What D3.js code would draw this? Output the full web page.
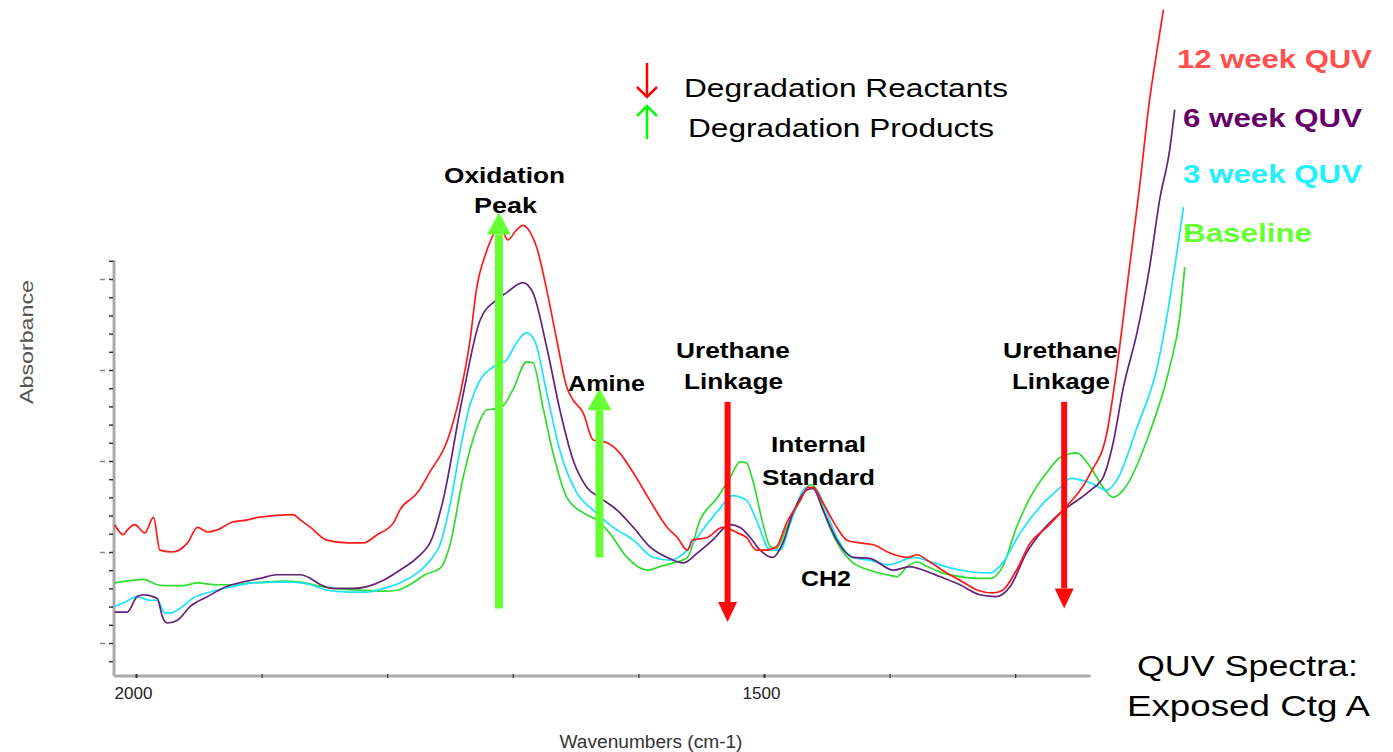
<!DOCTYPE html>
<html><head><meta charset="utf-8">
<script src="https://cdn.jsdelivr.net/npm/d3@7"></script>
<style>
html,body{margin:0;padding:0;background:#fff;}
svg{display:block;}
text{font-family:"Liberation Sans",Arial,sans-serif;}
</style></head>
<body>
<svg id="chart" width="1393" height="752"></svg>
<script>
// ---------- DATA (wavenumber cm-1, absorbance) ----------
const week12 = [[2017,0.330],[2010,0.319],[2007,0.324],[2001,0.330],[1993,0.321],[1986,0.338],[1981,0.302],[1971,0.300],[1959,0.310],[1951,0.327],[1943,0.322],[1936,0.324],[1923,0.333],[1912,0.335],[1903,0.338],[1875,0.341],[1869,0.335],[1861,0.327],[1848,0.313],[1832,0.310],[1819,0.310],[1808,0.319],[1795,0.332],[1790,0.346],[1776,0.365],[1766,0.388],[1752,0.423],[1742,0.473],[1734,0.533],[1729,0.588],[1721,0.630],[1710,0.657],[1704,0.643],[1697,0.654],[1692,0.659],[1686,0.651],[1681,0.635],[1673,0.588],[1665,0.533],[1657,0.481],[1652,0.467],[1644,0.453],[1636,0.423],[1625,0.420],[1615,0.409],[1604,0.387],[1591,0.357],[1577,0.327],[1569,0.316],[1561,0.302],[1557,0.313],[1545,0.316],[1533,0.327],[1521,0.321],[1514,0.316],[1506,0.302],[1498,0.302],[1490,0.306],[1482,0.332],[1471,0.357],[1465,0.371],[1461,0.371],[1453,0.354],[1442,0.327],[1434,0.313],[1424,0.310],[1413,0.308],[1400,0.299],[1386,0.294],[1378,0.297],[1370,0.291],[1358,0.280],[1344,0.269],[1330,0.258],[1318,0.255],[1310,0.258],[1299,0.280],[1288,0.310],[1275,0.327],[1264,0.343],[1240,0.387],[1227,0.431],[1219,0.503],[1209,0.613],[1201,0.701],[1193,0.797],[1187,0.852],[1182,0.896]];
const week6 = [[2017,0.234],[2007,0.234],[1999,0.251],[1994,0.253],[1983,0.249],[1979,0.229],[1975,0.222],[1967,0.225],[1957,0.240],[1943,0.251],[1928,0.262],[1915,0.267],[1901,0.271],[1888,0.275],[1869,0.275],[1861,0.271],[1853,0.264],[1843,0.260],[1827,0.260],[1816,0.262],[1803,0.269],[1790,0.280],[1776,0.294],[1764,0.316],[1756,0.354],[1740,0.470],[1726,0.555],[1713,0.577],[1705,0.585],[1692,0.596],[1684,0.585],[1673,0.525],[1662,0.453],[1652,0.401],[1641,0.371],[1631,0.360],[1617,0.346],[1604,0.327],[1591,0.306],[1577,0.294],[1564,0.288],[1553,0.299],[1541,0.313],[1527,0.330],[1519,0.327],[1511,0.316],[1503,0.302],[1493,0.294],[1485,0.310],[1477,0.343],[1466,0.368],[1461,0.370],[1453,0.346],[1442,0.313],[1429,0.294],[1416,0.293],[1397,0.280],[1384,0.284],[1373,0.280],[1360,0.273],[1344,0.264],[1328,0.253],[1315,0.251],[1304,0.262],[1291,0.299],[1278,0.324],[1264,0.343],[1240,0.368],[1230,0.382],[1222,0.420],[1214,0.480],[1203,0.541],[1193,0.613],[1185,0.687],[1177,0.742],[1173,0.786]];
const week3 = [[2017,0.240],[2010,0.244],[1999,0.251],[1989,0.247],[1983,0.247],[1977,0.233],[1973,0.233],[1965,0.238],[1955,0.249],[1941,0.256],[1923,0.262],[1907,0.266],[1888,0.267],[1875,0.267],[1861,0.264],[1848,0.258],[1830,0.256],[1816,0.256],[1803,0.260],[1790,0.266],[1776,0.277],[1764,0.294],[1758,0.308],[1750,0.352],[1742,0.412],[1734,0.462],[1726,0.489],[1716,0.503],[1705,0.511],[1697,0.530],[1689,0.541],[1682,0.530],[1673,0.475],[1662,0.409],[1649,0.365],[1636,0.346],[1620,0.327],[1604,0.313],[1588,0.294],[1575,0.291],[1561,0.302],[1549,0.324],[1535,0.348],[1525,0.362],[1514,0.357],[1506,0.335],[1495,0.302],[1487,0.302],[1479,0.332],[1466,0.371],[1458,0.368],[1450,0.343],[1442,0.316],[1429,0.294],[1416,0.291],[1400,0.286],[1381,0.294],[1365,0.288],[1350,0.282],[1334,0.278],[1320,0.277],[1310,0.288],[1296,0.321],[1280,0.350],[1264,0.371],[1256,0.381],[1240,0.376],[1227,0.368],[1219,0.379],[1203,0.437],[1187,0.503],[1177,0.577],[1169,0.651],[1166,0.679]];
const baseline = [[2017,0.266],[2002,0.269],[1994,0.270],[1983,0.264],[1975,0.263],[1963,0.263],[1951,0.266],[1936,0.264],[1923,0.264],[1909,0.266],[1896,0.267],[1883,0.268],[1869,0.267],[1856,0.263],[1843,0.260],[1822,0.258],[1803,0.257],[1792,0.258],[1782,0.264],[1770,0.275],[1758,0.282],[1750,0.308],[1740,0.379],[1726,0.445],[1721,0.456],[1710,0.458],[1700,0.478],[1689,0.509],[1684,0.508],[1676,0.459],[1668,0.409],[1657,0.360],[1644,0.343],[1633,0.335],[1623,0.321],[1609,0.294],[1593,0.280],[1583,0.284],[1572,0.288],[1561,0.294],[1551,0.335],[1537,0.360],[1527,0.382],[1519,0.399],[1514,0.398],[1509,0.379],[1501,0.332],[1495,0.306],[1490,0.304],[1482,0.327],[1471,0.357],[1463,0.374],[1458,0.368],[1450,0.335],[1440,0.306],[1429,0.288],[1416,0.280],[1402,0.275],[1394,0.273],[1386,0.284],[1378,0.289],[1370,0.284],[1358,0.277],[1344,0.273],[1330,0.271],[1320,0.271],[1310,0.284],[1299,0.327],[1288,0.360],[1275,0.387],[1264,0.404],[1251,0.409],[1240,0.393],[1230,0.371],[1222,0.360],[1214,0.368],[1193,0.431],[1177,0.503],[1169,0.558],[1165,0.613]];

const seriesNames  = ["Baseline","3 week QUV","6 week QUV","12 week QUV"];
const seriesLabelNames = ["12 week QUV","6 week QUV","3 week QUV","Baseline"];
const xTickValues = [2000,1900,1800,1700,1600,1500,1400,1300];
const xTickLabels = {2000:"2000",1500:"1500"};
const yMinorTicks = [0.18,0.20,0.22,0.24,0.26,0.28,0.30,0.32,0.34,0.36,0.38,0.40,0.42,0.44,0.46,0.48,0.50,0.52,0.54,0.56,0.58,0.60,0.62];
const yMajorTicks = [0.2,0.3,0.4,0.5,0.6];
const xExtent = [2017.5,1240];
const yExtent = [0.1637,0.621];
// arrows: [wavenumber, absorbance from, absorbance to]
const productArrows = [[1711,0.238,0.673],[1631,0.294,0.480]];
const reactantArrows = [[1529,0.465,0.223],[1261,0.465,0.238]];

// ---------- CHART ----------
const svg = d3.select("#chart");
const x = d3.scaleLinear().domain([2000,1500]).range([136,764]);
const y = d3.scaleLinear().domain([0.2,0.6]).range([643,279]);

const lineColors = {"Baseline":"#2fdc2f","3 week QUV":"#19e3ff","6 week QUV":"#62237a","12 week QUV":"#ff1a1a"};
const labelColors = {"12 week QUV":"#ff5050","6 week QUV":"#660066","3 week QUV":"#22f0ff","Baseline":"#66ff33"};
const dataBy = {"Baseline":baseline,"3 week QUV":week3,"6 week QUV":week6,"12 week QUV":week12};
const narrow = '"Liberation Sans Narrow","Arial Narrow","Liberation Sans",sans-serif';

function stretchText(g, str, px, py, anchor, size, weight, color, width, family){
  const t = g.append("text").attr("x",px).attr("y",py).attr("text-anchor",anchor)
    .style("font-size",size+"px").style("font-weight",weight).attr("fill",color).text(str);
  if (family) t.style("font-family",family);
  if (width) t.attr("textLength",width).attr("lengthAdjust","spacingAndGlyphs");
  return t;
}

// axes lines
svg.append("line").attr("x1",x(xExtent[0])).attr("x2",x(xExtent[1]))
  .attr("y1",y(yExtent[0])).attr("y2",y(yExtent[0]))
  .attr("stroke","#a9a9a9").attr("stroke-width",3);
svg.append("line").attr("x1",x(xExtent[0])).attr("x2",x(xExtent[0]))
  .attr("y1",y(yExtent[0])).attr("y2",y(yExtent[1]))
  .attr("stroke","#a9a9a9").attr("stroke-width",3);

// x axis ticks
const xAxis = d3.axisBottom(x).tickValues(xTickValues).tickSize(4)
  .tickFormat(d => xTickLabels[d] || "");
const gx = svg.append("g").attr("transform",`translate(0,${y(yExtent[0])-2})`).call(xAxis);
gx.select(".domain").remove();
gx.selectAll(".tick line").attr("stroke","#333").attr("stroke-width",d => (d===2000||d===1500)?2:1.2);
gx.selectAll(".tick text").attr("dy","1.05em").attr("dx",-3)
  .style("font-family",narrow).style("font-size","17px").attr("fill","#222");

// y axis ticks
const yAxis = d3.axisLeft(y).tickValues(yMinorTicks).tickSize(4).tickFormat("");
const gy = svg.append("g").attr("transform",`translate(${x(xExtent[0])-1},0)`).call(yAxis);
gy.select(".domain").remove();
gy.selectAll(".tick line").attr("stroke","#333").attr("stroke-width",1.5);
const yAxisMaj = d3.axisLeft(y).tickValues(yMajorTicks).tickSize(5).tickFormat("");
const gy2 = svg.append("g").attr("transform",`translate(${x(xExtent[0])-9},0)`).call(yAxisMaj);
gy2.select(".domain").remove();
gy2.selectAll(".tick line").attr("stroke","#888").attr("stroke-width",1.5);

// axis titles
const gt = svg.append("g").attr("transform","translate(33,342) rotate(-90)");
stretchText(gt,"Absorbance",0,0,"middle",18,"normal","#555",124,narrow);
stretchText(svg,"Wavenumbers (cm-1)",651,748,"middle",18,"normal","#333",183,narrow);

// spectra
const line = d3.line().x(d => x(d[0])).y(d => y(d[1])).curve(d3.curveMonotoneX);
svg.append("g").selectAll("path").data(seriesNames).join("path")
  .attr("d", n => line(dataBy[n]))
  .attr("fill","none").attr("stroke", n => lineColors[n]).attr("stroke-width",1.7)
  .attr("stroke-linejoin","round");

// arrows
function arrow(g, xw, a0, a1, color, shaft, headW, headH){
  const px = x(xw), p0 = y(a0), p1 = y(a1);
  const dir = p1 < p0 ? -1 : 1; // -1 up
  const baseY = p1 - dir*headH;
  g.append("rect").attr("x",px-shaft/2).attr("width",shaft)
    .attr("y",Math.min(p0,baseY)).attr("height",Math.abs(baseY-p0)).attr("fill",color);
  g.append("path").attr("d",`M${px-headW/2},${baseY} L${px+headW/2},${baseY} L${px},${p1} Z`).attr("fill",color);
}
const ga = svg.append("g");
productArrows.forEach(a => arrow(ga,a[0],a[1],a[2],"#66ff33",8,24,22));
reactantArrows.forEach(a => arrow(ga,a[0],a[1],a[2],"#ff0a0a",6,19,20));

// annotations: [text, centre x, baseline y, width]
const ann = [
  ["Oxidation",504.5,183,121],["Peak",505.5,213,63],["Amine",606.5,391,77],
  ["Urethane",733,358,114],["Linkage",733.5,389,99],
  ["Internal",818.5,452,95],["Standard",818.5,485,113],["CH2",826,586,50],
  ["Urethane",1060.5,358,115],["Linkage",1061,389,98]
];
const gan = svg.append("g");
ann.forEach(a => stretchText(gan,a[0],a[1],a[2],"middle",22,"bold","#000",a[3]));

// legend
const lg = svg.append("g");
lg.append("path").attr("d","M647,63 L647,97 M637,87 L647,97 L657,87").attr("stroke","#ff0000").attr("stroke-width",2.5).attr("fill","none");
lg.append("path").attr("d","M647,139 L647,106 M637,116 L647,106 L657,116").attr("stroke","#00ff00").attr("stroke-width",2.5).attr("fill","none");
stretchText(lg,"Degradation Reactants",684,97,"start",26,"normal","#000",324);
stretchText(lg,"Degradation Products",688,137,"start",26,"normal","#000",306);

// series labels: [x, baseline y, width]
const labPos = {"12 week QUV":[1177,68,195],"6 week QUV":[1183,127,179],"3 week QUV":[1183,183,179],"Baseline":[1183,242,129]};
const gl = svg.append("g");
seriesLabelNames.forEach(n => stretchText(gl,n,labPos[n][0],labPos[n][1],"start",26,"bold",labelColors[n],labPos[n][2]));

// title
stretchText(svg,"QUV Spectra:",1137,676,"start",30,"normal","#000",221);
stretchText(svg,"Exposed Ctg A",1127,716,"start",30,"normal","#000",243);
</script>
</body></html>
